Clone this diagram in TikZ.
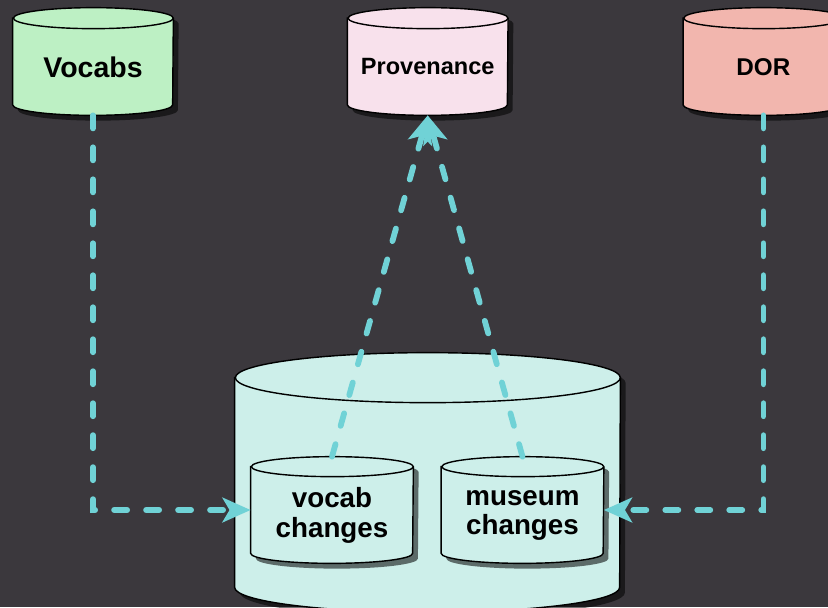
\documentclass[tikz,border=0pt]{standalone}
\usepackage{fontspec}
\setmainfont{Liberation Sans}
\usetikzlibrary{arrows.meta, shadows, calc, positioning}
\definecolor{bgdark}{RGB}{59,56,61}
\definecolor{vocabgreen}{RGB}{189,240,196}
\definecolor{provpink}{RGB}{248,225,236}
\definecolor{dorred}{RGB}{242,182,174}
\definecolor{storecyan}{RGB}{205,239,234}
\definecolor{linkcyan}{RGB}{112,210,214}
\pgfdeclarelayer{backdrop}
\pgfdeclarelayer{drums}
\pgfsetlayers{backdrop,drums,main}
\tikzstyle{store} = [rectangle, minimum width=3.2cm, minimum height=2.14cm, inner sep=0pt]
\tikzstyle{caption} = [align=center, yshift=-0.11cm, font=\bfseries\fontsize{15.8}{17}\selectfont]
\tikzstyle{drum} = [line width=0.8pt, draw=black, drop shadow={shadow xshift=3pt, shadow yshift=-3pt, opacity=0.55, fill=black}]
\tikzstyle{link} = [line width=3.3pt, draw=linkcyan, line cap=round, dash pattern=on 7.4pt off 10.8pt, -{Stealth[length=16pt, width=14pt, inset=4pt, line cap=butt]}]

\begin{document}
\begin{tikzpicture}
		\useasboundingbox (0,0) rectangle (16.56,-12.14);
		\clip (0,0) rectangle (16.56,-12.14);
		\begin{pgfonlayer}{backdrop}
			\fill[bgdark] (0,0) rectangle (16.56,-12.14);
		\end{pgfonlayer}
		
		\node (Vocabs) [store, label={[caption, font=\bfseries\fontsize{16.2}{18}\selectfont]center:Vocabs}] at (1.86,-1.23) {};
		\node (Provenance) [store, right = 3.48cm of Vocabs, label={[caption, font=\bfseries\fontsize{13.4}{16}\selectfont]center:Provenance}] {};
		\node (DOR) [store, right = 3.5cm of Provenance, label={[caption, font=\bfseries\fontsize{13.8}{16}\selectfont]center:DOR}] {};
		
		\node (Changes) [store, minimum width=7.7cm, minimum height=5.18cm] at (8.55,-9.65) {};
		\node (VocabChanges) [store, minimum width=3.24cm, minimum height=2.12cm, label={[caption]center:{vocab\\changes}}] at (6.64,-10.2) {};
		\node (MuseumChanges) [store, minimum width=3.24cm, minimum height=2.12cm, label={[caption]center:{museum\\changes}}] at (10.45,-10.2) {};
		
		% cylinder bodies behind the labels
		\begin{pgfonlayer}{drums}
			\foreach \s/\tint/\rx/\ry in {Vocabs/vocabgreen/1.6/0.21, Provenance/provpink/1.6/0.21, DOR/dorred/1.6/0.21, Changes/storecyan/3.85/0.5, VocabChanges/storecyan/1.62/0.2, MuseumChanges/storecyan/1.62/0.2} {
				\filldraw [drum, fill=\tint] ($(\s.north west)+(0,-\ry)$) -- ($(\s.south west)+(0,\ry)$)
					arc [start angle=180, end angle=360, x radius=\rx, y radius=\ry]
					-- ($(\s.north east)+(0,-\ry)$)
					arc [start angle=0, end angle=180, x radius=\rx, y radius=\ry] -- cycle;
				\draw [line width=0.8pt] ($(\s.north east)+(0,-\ry)$) arc [start angle=0, end angle=-180, x radius=\rx, y radius=\ry];
			}
		\end{pgfonlayer}
		
		\draw [link] (Vocabs.south) |- (VocabChanges.west);
		\draw [link] (DOR.south) |- (MuseumChanges.east);
		\draw [link] (VocabChanges.north) -- (Provenance.south);
		\draw [link] (MuseumChanges.north) -- (Provenance.south);
\end{tikzpicture}
\end{document}
